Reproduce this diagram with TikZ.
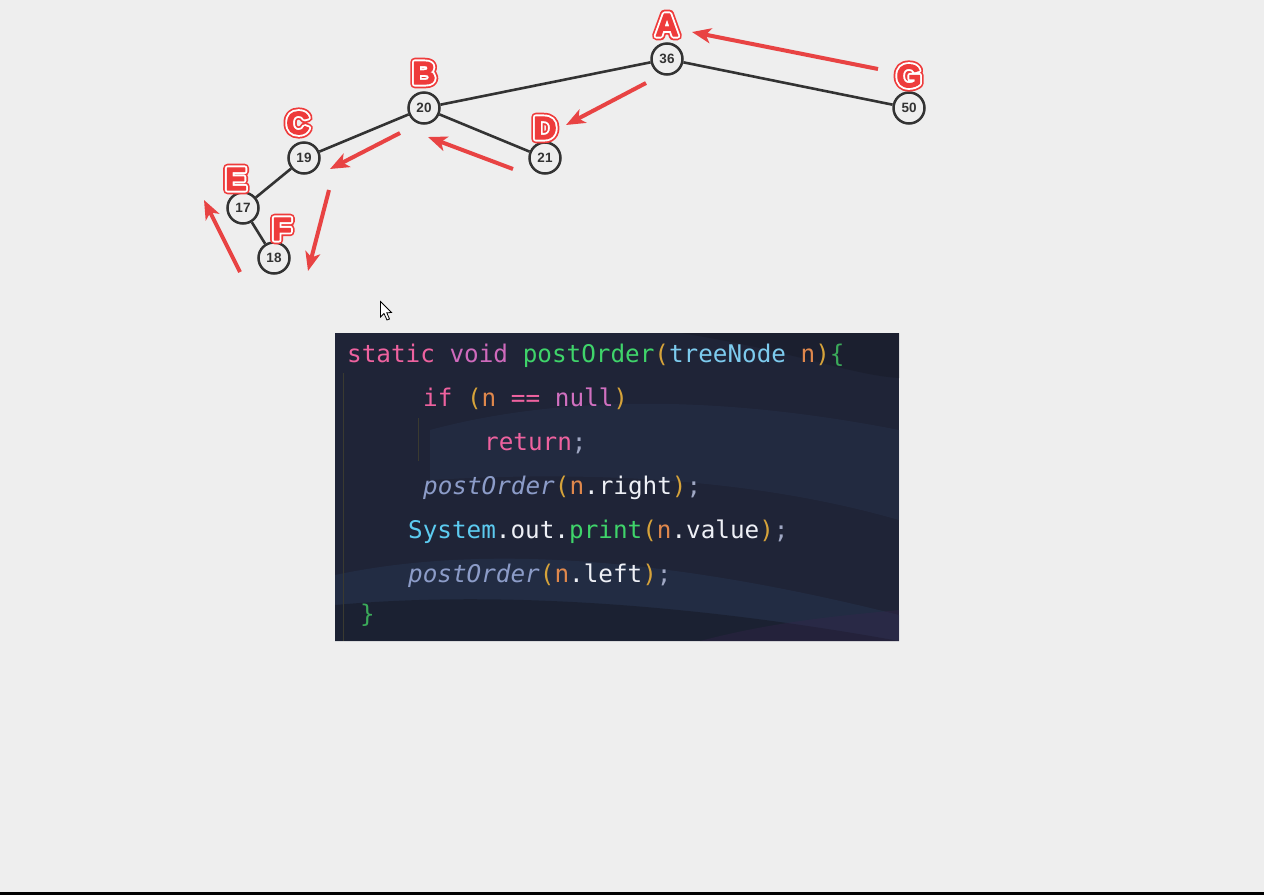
\documentclass[tikz,border=0pt]{standalone}
\usepackage{fontspec}
\setmainfont{Liberation Sans}
\newfontfamily\codefont{DejaVu Sans Mono}
\usetikzlibrary{arrows.meta}
\definecolor{bg}{HTML}{EEEEEE}
\definecolor{edge}{HTML}{333333}
\definecolor{lblred}{HTML}{EE3B3B}
\definecolor{arr}{HTML}{E84343}
\definecolor{codebg}{HTML}{1F2437}
\definecolor{bgdark}{HTML}{1A1E2C}
\definecolor{bgband}{HTML}{2C3A58}
\definecolor{bgband2}{HTML}{2D4468}
\definecolor{bgdeep}{HTML}{171B28}
\definecolor{bgpurple}{HTML}{3A2550}
\definecolor{cpink}{HTML}{EE629F}
\definecolor{cvoid}{HTML}{CF6ABC}
\definecolor{cgreen}{HTML}{3FD46A}
\definecolor{cgold}{HTML}{D6A33A}
\definecolor{ctype}{HTML}{7DCBEE}
\definecolor{cvar}{HTML}{E0884C}
\definecolor{cbrace}{HTML}{3BAA5A}
\definecolor{cnull}{HTML}{D070C0}
\definecolor{citalic}{HTML}{8C9CC8}
\definecolor{cwhite}{HTML}{EEF0F6}
\definecolor{csys}{HTML}{5CCBF0}
\definecolor{csemi}{HTML}{A0A8C4}
\definecolor{guide}{HTML}{3A3A30}
\tikzset{
  tnode/.style={circle, draw=edge, line width=2.5pt, fill=bg, minimum size=31pt, inner sep=0pt, font=\fontsize{13.5}{13.5}\selectfont\bfseries, text=edge},
  tedge/.style={draw=edge, line width=2.6pt},
  lblout/.style={font=\fontsize{32}{32}\selectfont\bfseries, inner sep=0pt},
  redarrow/.style={draw=arr, line width=4pt, -{Stealth[length=19pt,width=15pt,inset=5pt]}},
  codeline/.style={anchor=base west, inner sep=0pt, font=\codefont\fontsize{24.3}{24.3}\selectfont}
}
% stroked text: #1 line width, #2 stroke RGB, #3 text
\newcommand{\strk}[3]{\special{pdf:literal direct q #1 w 1 j #2 RG 2 Tr}#3\special{pdf:literal direct 0 Tr Q}}
\newcommand{\biglabel}[3]{%
  \node[lblout] (#2) at (#1) {\color{lblred}\strk{8.5}{0.933 0.231 0.231}{#3}\llap{\strk{5}{1 1 1}{#3}}\llap{\strk{1.2}{0.933 0.231 0.231}{#3}}};
}
\begin{document}
\begin{tikzpicture}[x=1pt,y=-1pt]
\fill[bg] (0,0) rectangle (1264,895);
\useasboundingbox (0,0) rectangle (1264,895);
\fill[black] (0,892) rectangle (1264,895);

% tree nodes
\node[tnode] (n36) at (667,59) {36};
\node[tnode] (n20) at (424,108) {20};
\node[tnode] (n50) at (909,108) {50};
\node[tnode] (n19) at (304,158) {19};
\node[tnode] (n21) at (545,158) {21};
\node[tnode] (n17) at (243,208) {17};
\node[tnode] (n18) at (274,258) {18};
\draw[tedge] (n36) -- (n20);
\draw[tedge] (n36) -- (n50);
\draw[tedge] (n20) -- (n19);
\draw[tedge] (n20) -- (n21);
\draw[tedge] (n19) -- (n17);
\draw[tedge] (n17) -- (n18);

% labels
\biglabel{667,25}{lA}{A}
\biglabel{424,73}{lB}{B}
\biglabel{298,123}{lC}{C}
\biglabel{545,128}{lD}{D}
\biglabel{236,179}{lE}{E}
\biglabel{282,229}{lF}{F}
\biglabel{909,76}{lG}{G}

% red arrows
\coordinate (a1s) at (878,69);  \coordinate (a1e) at (692,32);
\coordinate (a2s) at (646,83);  \coordinate (a2e) at (566,125);
\coordinate (a3s) at (400,133); \coordinate (a3e) at (330,169);
\coordinate (a4s) at (513,169); \coordinate (a4e) at (428,137);
\coordinate (a5s) at (329,190); \coordinate (a5e) at (308,271);
\coordinate (a6s) at (240,272); \coordinate (a6e) at (204,200);
\draw[redarrow] (a1s) -- (a1e);
\draw[redarrow] (a2s) -- (a2e);
\draw[redarrow] (a3s) -- (a3e);
\draw[redarrow] (a4s) -- (a4e);
\draw[redarrow] (a5s) -- (a5e);
\draw[redarrow] (a6s) -- (a6e);

% mouse cursor
\draw[black, fill=white, line width=0.8pt, line join=miter]
  (380.5,301.5) -- (380.5,317) -- (384,313.5) -- (387,320) -- (389.5,319) -- (386.8,312.8) -- (391.5,312.5) -- cycle;

% code panel
\begin{scope}
\clip (335,333) rectangle (899,641);
\fill[codebg] (335,333) rectangle (899,641);
\fill[bgdark, opacity=0.7] (680,333) .. controls (790,350) and (850,375) .. (899,378) -- (899,333) -- cycle;
\fill[bgband, opacity=0.3] (430,430) .. controls (560,395) and (720,395) .. (899,430) -- (899,520) .. controls (760,480) and (600,470) .. (430,480) -- cycle;
\fill[bgband2, opacity=0.25] (335,575) .. controls (500,540) and (700,565) .. (899,615) -- (899,641) -- (335,641) -- cycle;
\fill[bgdeep, opacity=0.6] (335,605) .. controls (500,590) and (700,605) .. (899,641) -- (335,641) -- cycle;
\fill[bgpurple, opacity=0.3] (700,641) .. controls (780,620) and (850,615) .. (899,610) -- (899,641) -- cycle;
\end{scope}
\draw[guide, line width=1pt] (343.5,373) -- (343.5,641);
\draw[guide, line width=1.5pt] (418.5,418) -- (418.5,461);

\node[codeline] (c1) at (347,362) {\textcolor{cpink}{static} \textcolor{cvoid}{void} \textcolor{cgreen}{postOrder}\textcolor{cgold}{(}\textcolor{ctype}{treeNode} \textcolor{cvar}{n}\textcolor{cgold}{)}\textcolor{cbrace}{\{}};
\node[codeline] (c2) at (423,406) {\textcolor{cpink}{if} \textcolor{cgold}{(}\textcolor{cvar}{n} \textcolor{cpink}{==} \textcolor{cnull}{null}\textcolor{cgold}{)}};
\node[codeline] (c3) at (484,450) {\textcolor{cpink}{return}\textcolor{csemi}{;}};
\node[codeline] (c4) at (423,494) {\textcolor{citalic}{\itshape postOrder}\textcolor{cgold}{(}\textcolor{cvar}{n}\textcolor{cwhite}{.right}\textcolor{cgold}{)}\textcolor{csemi}{;}};
\node[codeline] (c5) at (408,538) {\textcolor{csys}{System}\textcolor{cwhite}{.out.}\textcolor{cgreen}{print}\textcolor{cgold}{(}\textcolor{cvar}{n}\textcolor{cwhite}{.value}\textcolor{cgold}{)}\textcolor{csemi}{;}};
\node[codeline] (c6) at (408,582) {\textcolor{citalic}{\itshape postOrder}\textcolor{cgold}{(}\textcolor{cvar}{n}\textcolor{cwhite}{.left}\textcolor{cgold}{)}\textcolor{csemi}{;}};
\node[codeline] (c7) at (360,622) {\textcolor{cbrace}{\}}};
\end{tikzpicture}
\end{document}
